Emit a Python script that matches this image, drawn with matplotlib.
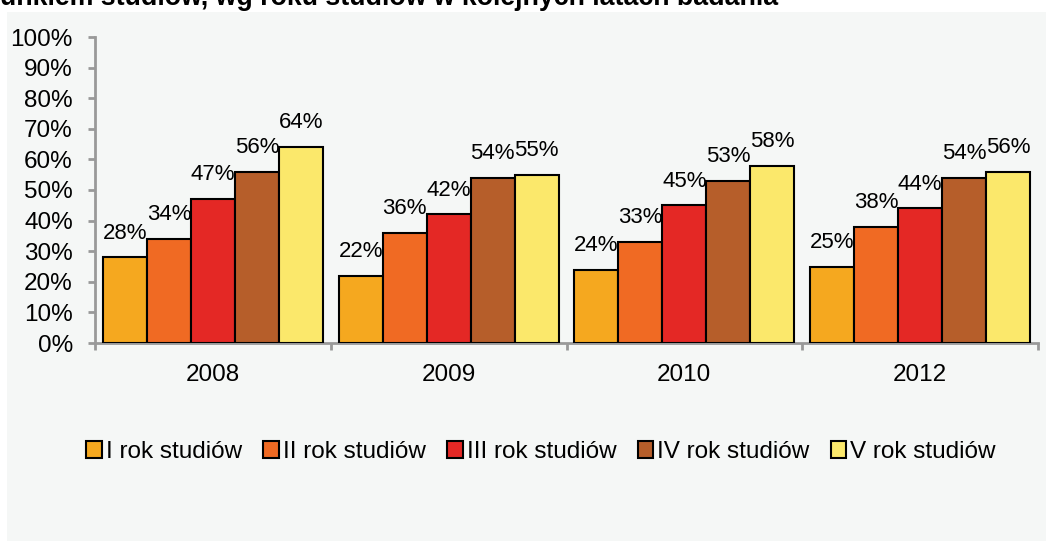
import numpy as np
import matplotlib.pyplot as plt
from matplotlib.patches import Rectangle

# dane
years = ["2008", "2009", "2010", "2012"]
series_names = ["I rok studiów", "II rok studiów", "III rok studiów", "IV rok studiów", "V rok studiów"]
rok_1 = [28, 22, 24, 25]
rok_2 = [34, 36, 33, 38]
rok_3 = [47, 42, 45, 44]
rok_4 = [56, 54, 53, 54]
rok_5 = [64, 55, 58, 56]
y_ticks = [0, 10, 20, 30, 40, 50, 60, 70, 80, 90, 100]
colors = ["#F5A81F", "#F06A23", "#E42825", "#B65E2A", "#FBE86B"]

title = "unkiem studiów, wg roku studiów w kolejnych latach badania"

plt.rcParams["font.family"] = ["Liberation Sans", "DejaVu Sans"]
FS = 17.5

fig = plt.figure(figsize=(10.46, 5.41), dpi=100)
fig.patch.set_facecolor("white")
# szare tło panelu
fig.patches.append(Rectangle((7 / 1046, 0), 1, 1 - 12 / 541, transform=fig.transFigure,
                             facecolor="#F5F7F6", edgecolor="none", zorder=-10))

ax = fig.add_axes([95 / 1046, 1 - 343 / 541, (1038 - 95) / 1046, 306 / 541])
ax.set_facecolor("none")
ax.set_zorder(2)

data = [rok_1, rok_2, rok_3, rok_4, rok_5]
x = np.arange(len(years))
width = 0.1866
for i, vals in enumerate(data):
    pos = x + (i - 2) * width
    bars = ax.bar(pos, vals, width, color=colors[i], edgecolor="black",
                  linewidth=1.5, label=series_names[i], zorder=3)
    for b, v in zip(bars, vals):
        ax.annotate(f"{v}%", (b.get_x() + b.get_width() / 2, v),
                    xytext=(0, 13.5), textcoords="offset points",
                    ha="center", va="baseline", fontsize=16,
                    family=["Liberation Sans Narrow", "Liberation Sans"])

ax.set_ylim(0, 100)
ax.set_xlim(-0.5, 3.5)
ax.set_yticks(y_ticks)
ax.set_yticklabels([f"{t}%" for t in y_ticks], fontsize=FS)
ax.set_xticks([-0.5, 0.5, 1.5, 2.5, 3.5])
ax.set_xticklabels([])
ax.set_xticks(x, minor=True)
ax.set_xticklabels(years, minor=True, fontsize=FS)
ax.tick_params(axis="x", which="minor", length=0, pad=15)
ax.tick_params(axis="both", which="major", length=5, width=2, color="#999999")
ax.tick_params(axis="y", pad=11)

for s in ["top", "right"]:
    ax.spines[s].set_visible(False)
for s in ["left", "bottom"]:
    ax.spines[s].set_color("#999999")
    ax.spines[s].set_linewidth(2)

fig.legend(loc="center", bbox_to_anchor=(541 / 1046, 1 - 452 / 541), ncol=5,
           frameon=False, fontsize=FS, handlelength=0.65, handleheight=0.65,
           handletextpad=0.15, columnspacing=0.88)

fig.text(0, 1 - 5 / 541, title, fontsize=19.3, fontweight="bold", va="baseline", ha="left")

fig.savefig("out.png", dpi=100, facecolor=fig.get_facecolor())
